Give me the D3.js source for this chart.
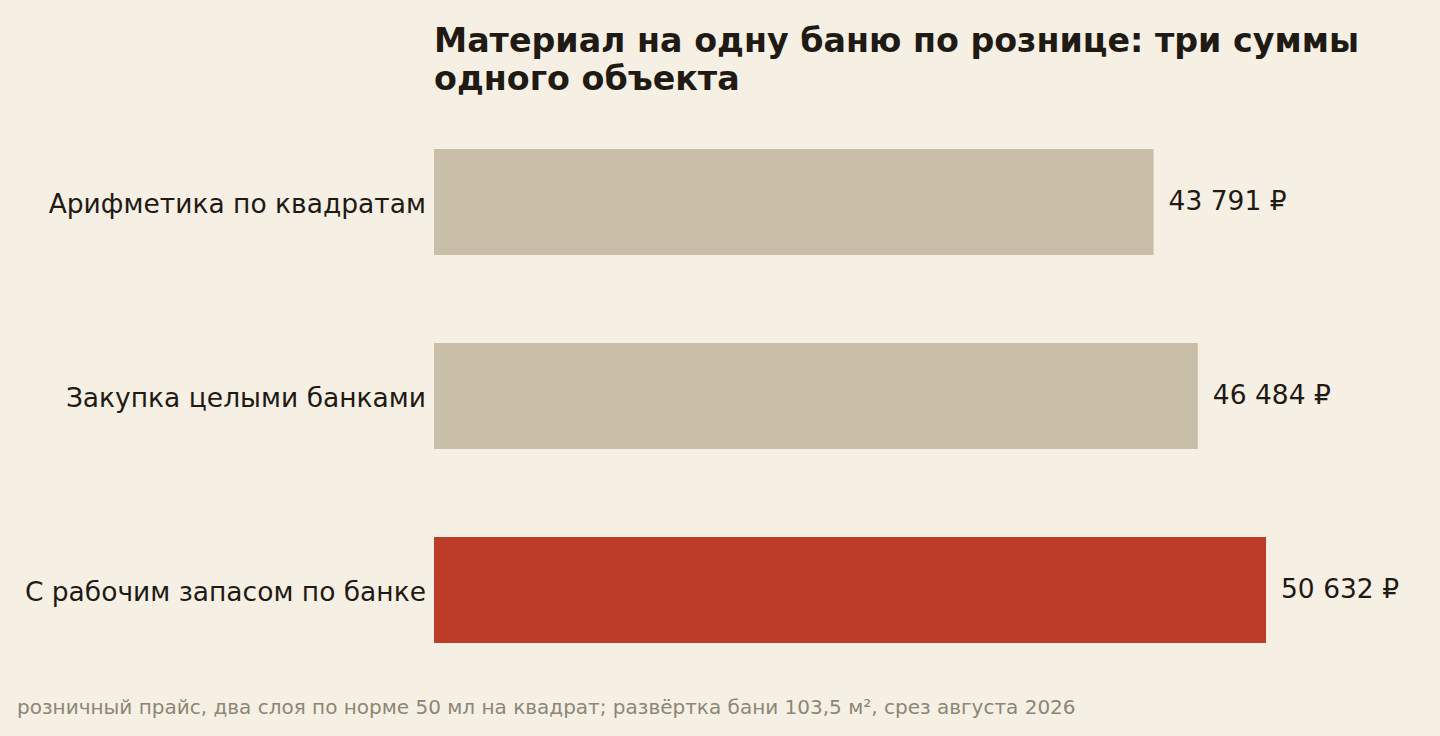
<!DOCTYPE html>
<html>
<head>
<meta charset="utf-8">
<script src="https://cdn.jsdelivr.net/npm/d3@7"></script>
<style>
  html, body { margin: 0; padding: 0; background: #f6f0e4; }
  svg { display: block; font-family: "DejaVu Sans", sans-serif; }
</style>
</head>
<body>
<svg id="chart"></svg>
<script>
const categories = ["Арифметика по квадратам", "Закупка целыми банками", "С рабочим запасом по банке"];
const values = [43791, 46484, 50632];
const highlight = [false, false, true];
const titleLines = ["Материал на одну баню по рознице: три суммы", "одного объекта"];
const footnote = "розничный прайс, два слоя по норме 50 мл на квадрат; развёртка бани 103,5 м², срез августа 2026";

const W = 1440, H = 736;
const left = 434;

const svg = d3.select("#chart")
    .attr("width", W)
    .attr("height", H);

svg.append("rect").attr("width", W).attr("height", H).attr("fill", "#f6f0e4");

const x = d3.scaleLinear()
    .domain([0, 50632])
    .range([left, left + 832]);

const y = d3.scaleBand()
    .domain(categories)
    .range([105, 687])
    .paddingInner(0.4536)
    .paddingOuter(0.2268);

const fmt = v => d3.format(",")(v).replace(/,/g, " ") + " ₽";

const data = categories.map((c, i) => ({ name: c, value: values[i], hl: highlight[i] }));

svg.selectAll(".bar")
    .data(data)
    .enter()
    .append("rect")
    .attr("x", x(0))
    .attr("y", d => y(d.name))
    .attr("width", d => x(d.value) - x(0))
    .attr("height", y.bandwidth())
    .attr("fill", d => d.hl ? "#bc3c27" : "#c9bfa8");

svg.selectAll(".cat")
    .data(data)
    .enter()
    .append("text")
    .attr("x", left - 8)
    .attr("y", d => y(d.name) + y.bandwidth() / 2)
    .attr("dy", "0.41em")
    .attr("text-anchor", "end")
    .attr("font-size", 26.5)
    .attr("fill", "#1f1a14")
    .text(d => d.name);

svg.selectAll(".val")
    .data(data)
    .enter()
    .append("text")
    .attr("x", d => x(d.value) + 15)
    .attr("y", d => y(d.name) + y.bandwidth() / 2)
    .attr("dy", "0.3em")
    .attr("font-size", 26.5)
    .attr("fill", "#1f1a14")
    .text(d => fmt(d.value));

svg.append("text")
    .attr("x", left)
    .attr("y", 52)
    .attr("font-size", 33.3)
    .attr("font-weight", "bold")
    .attr("fill", "#1f1a14")
    .selectAll("tspan")
    .data(titleLines)
    .enter()
    .append("tspan")
    .attr("x", left)
    .attr("dy", (d, i) => i === 0 ? 0 : 37.5)
    .text(d => d);

svg.append("text")
    .attr("x", 17)
    .attr("y", 714)
    .attr("font-size", 20)
    .attr("fill", "#8c8676")
    .text(footnote);
</script>
</body>
</html>
